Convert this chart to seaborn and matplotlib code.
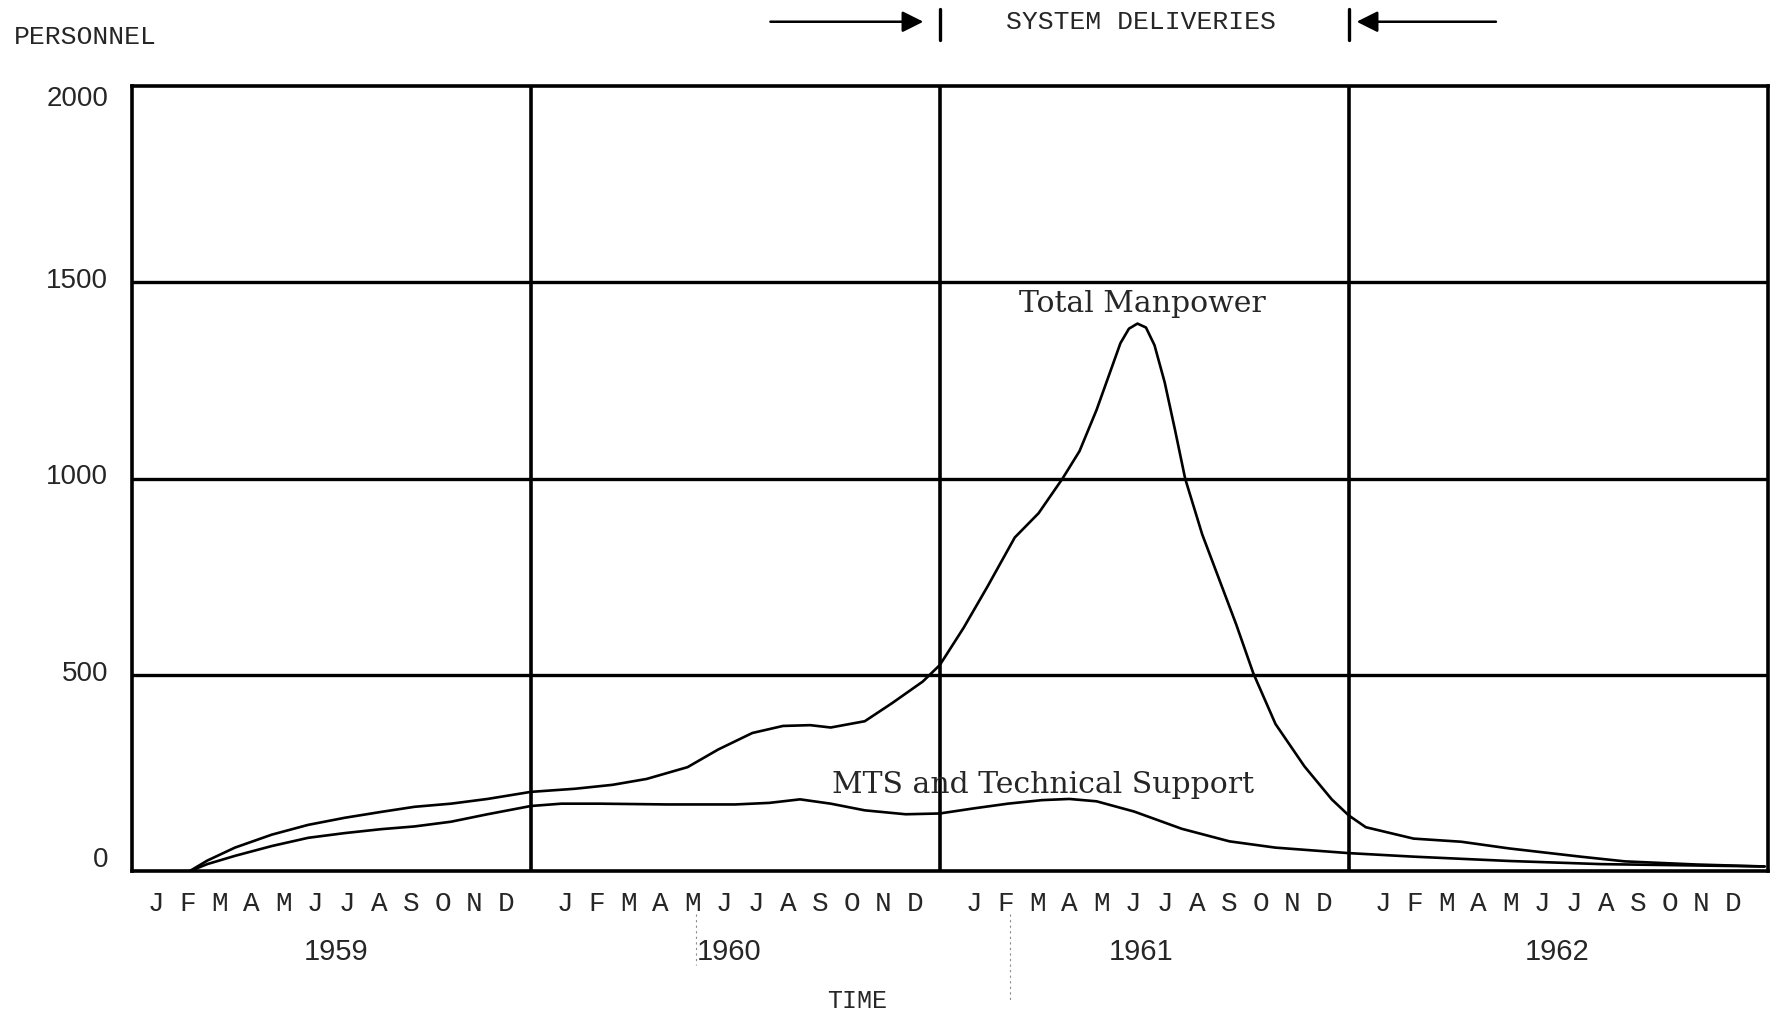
import numpy as np
import pandas as pd
import matplotlib
matplotlib.use('Agg')
import matplotlib.pyplot as plt
import matplotlib.transforms as mtransforms
import seaborn as sns

# months counted from Jan 1959 (year boundaries at 12, 24, 36)
total_month = [1.99, 2.51, 3.32, 4.4, 5.47, 6.54, 7.61, 8.59, 9.66, 10.73, 12.0,
               13.3, 14.4, 15.4, 16.6, 17.5, 18.5, 19.4, 20.2, 20.8, 21.8, 22.6,
               23.5, 24.0, 24.7, 25.4, 26.2, 26.9, 27.6, 28.1, 28.6, 29.0, 29.3,
               29.55, 29.8, 30.05, 30.3, 30.6, 30.9, 31.2, 31.7, 32.2, 32.7, 33.2,
               33.85, 34.7, 35.5, 36.0, 36.5, 37.9, 39.3, 40.7, 42.8, 44.1, 46.2,
               48.2]
total_value = [0, 27, 60, 93, 118, 136, 151, 164, 172, 184, 202,
               210, 220, 235, 265, 310, 352, 370, 372, 366, 382, 428,
               483, 525, 620, 725, 850, 912, 1000, 1070, 1175, 1272, 1345,
               1382, 1395, 1385, 1340, 1245, 1125, 1000, 858, 743, 628, 504,
               375, 267, 183, 142, 112, 83, 75, 58, 37, 25, 17,
               12]

mts_month = [1.99, 2.51, 3.32, 4.4, 5.47, 6.54, 7.61, 8.59, 9.66, 10.73, 12.0,
             12.9, 14.0, 16.0, 18.0, 19.0, 19.9, 20.8, 21.8, 23.0, 24.0, 25.0,
             26.0, 27.0, 27.8, 28.6, 29.7, 31.1, 32.5, 33.85, 36.0, 37.9, 40.7,
             43.4, 48.2]
mts_value = [0, 18, 39, 64, 85, 97, 107, 114, 126, 145, 166,
             172, 172, 170, 170, 174, 183, 172, 155, 145, 147, 160,
             172, 181, 184, 178, 152, 108, 76, 60, 46, 37, 26,
             18, 12]

years = ['1959', '1960', '1961', '1962']
year_x = [6.28, 17.81, 29.91, 42.1]
month_letters = ['J', 'F', 'M', 'A', 'M', 'J', 'J', 'A', 'S', 'O', 'N', 'D']
y_ticks = [0, 500, 1000, 1500, 2000]

sns.set_style('white')
plt.rcParams['font.family'] = ['DejaVu Sans']

df = pd.concat([
    pd.DataFrame({'month': total_month, 'value': total_value, 'series': 'Total Manpower'}),
    pd.DataFrame({'month': mts_month, 'value': mts_value, 'series': 'MTS and Technical Support'}),
])

fig = plt.figure(figsize=(17.81, 10.13), dpi=100)
ax = fig.add_axes([0.0741, 0.140, 0.9186, 0.775])

sns.lineplot(data=df, x='month', y='value', hue='series', palette=['black', 'black'],
             estimator=None, sort=False, linewidth=1.9, legend=False, ax=ax)

ax.set_xlim(0.3, 48.3)
ax.set_ylim(0, 2000)

# grid of heavy ruled lines
for v in [500, 1000, 1500]:
    ax.axhline(v, color='black', lw=2.4, zorder=1)
for m in [12, 24, 36]:
    ax.axvline(m, color='black', lw=2.6, zorder=1)
for s in ax.spines.values():
    s.set_linewidth(2.6)
    s.set_color('black')

ax.set_xticks([])
ax.set_yticks(y_ticks)
ax.set_yticklabels([str(v) for v in y_ticks], fontfamily='Liberation Sans', fontsize=20)
ax.tick_params(axis='y', length=0, pad=17)
ax.set_xlabel('')
ax.set_ylabel('')
# the typed numbers do not sit exactly on the rules
for lab, dy in zip(ax.get_yticklabels(), [10, 3, 3, 3, -7]):
    lab.set_transform(lab.get_transform() +
                      mtransforms.ScaledTranslation(0, dy / 72, fig.dpi_scale_trans))

# month letters and years under the axis
for yi, yr in enumerate(years):
    for i, letter in enumerate(month_letters):
        ax.text(yi * 12 + 1.0 + i * 0.935, -84, letter, ha='center', va='center',
                fontfamily='Liberation Mono', fontsize=20, clip_on=False)
    ax.text(year_x[yi], -205, yr, ha='center', va='center',
            fontfamily='Liberation Sans', fontsize=21, clip_on=False)

ax.text(21.58, -330, 'TIME', ha='center', va='center',
        fontfamily='Liberation Mono', fontsize=18, clip_on=False)

# faint fold marks from the scan
ax.plot([16.85, 16.85], [-110, -240], ls=(0, (2, 3)), color='0.55', lw=0.8, clip_on=False)
ax.plot([26.07, 26.07], [-110, -330], ls=(0, (2, 3)), color='0.55', lw=0.8, clip_on=False)

# curve labels
ax.text(29.94, 1446, 'Total Manpower', ha='center', va='center',
        fontfamily='DejaVu Serif', fontsize=21.5)
ax.text(27.04, 220, 'MTS and Technical Support', ha='center', va='center',
        fontfamily='DejaVu Serif', fontsize=21.5)

# system deliveries markers above the chart
ax.annotate('', xy=(23.6, 2164), xytext=(18.95, 2164), annotation_clip=False,
            arrowprops=dict(arrowstyle='-|>', color='black', lw=1.8, mutation_scale=32))
ax.annotate('', xy=(36.15, 2164), xytext=(40.4, 2164), annotation_clip=False,
            arrowprops=dict(arrowstyle='-|>', color='black', lw=1.8, mutation_scale=32))
ax.plot([24, 24], [2117, 2196], color='black', lw=2.4, clip_on=False)
ax.plot([36, 36], [2117, 2196], color='black', lw=2.4, clip_on=False)
ax.text(29.91, 2164, 'SYSTEM DELIVERIES', ha='center', va='center',
        fontfamily='Liberation Mono', fontsize=19, clip_on=False)

fig.text(0.0079, 0.963, 'PERSONNEL', ha='left', va='center',
         fontfamily='Liberation Mono', fontsize=19)

fig.savefig('out.png', dpi=100, facecolor='white')
